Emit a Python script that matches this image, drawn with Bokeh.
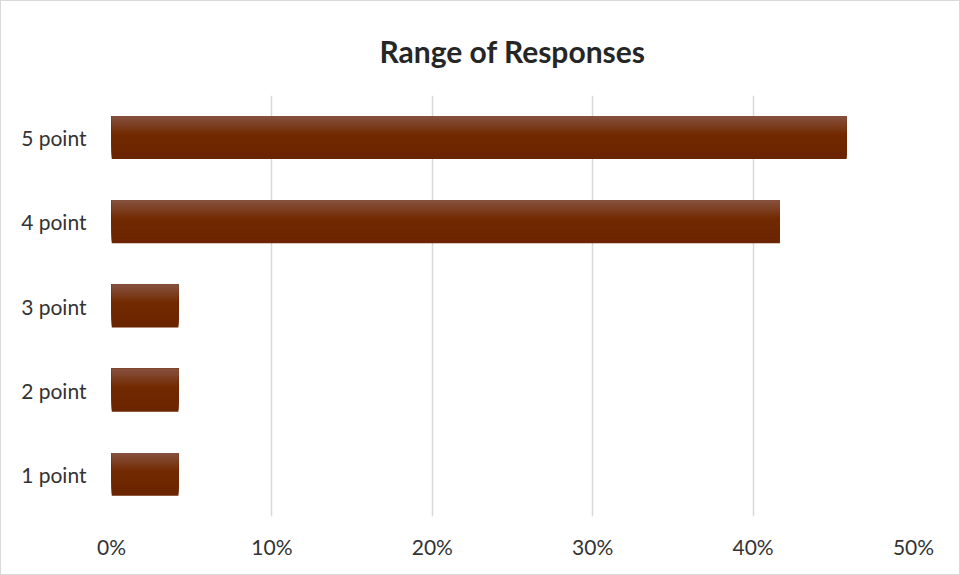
from bokeh.plotting import figure
from bokeh.models import ColumnDataSource, NumeralTickFormatter, FixedTicker, Range1d
from bokeh.transform import dodge
from bokeh.embed import file_html
from bokeh.resources import INLINE

categories = ["1 point", "2 point", "3 point", "4 point", "5 point"]
shares = [0.0417, 0.0417, 0.0417, 0.4167, 0.4583]
x_ticks = [0.0, 0.1, 0.2, 0.3, 0.4, 0.5]
title_text = "Range of Responses"

FONT = "Lato"
p = figure(width=960, height=575, y_range=categories, x_range=Range1d(0, 0.5),
           output_backend="svg", toolbar_location=None,
           min_border_left=110, min_border_right=48, min_border_top=94, min_border_bottom=60)
p.title.text = title_text
p.title.align = "center"
p.title.text_font = FONT
p.title.text_font_size = "30px"
p.title.text_font_style = "bold"
p.title.text_color = "#262626"
p.title.standoff = 54
p.title.offset = -30

src = ColumnDataSource(dict(cat=categories, val=shares))

# vertical gradient: nested rectangles anchored at the bar's top edge
h = 0.51
N = 30
top = (0x87, 0x54, 0x44)
mid = (0x73, 0x2a, 0x00)
bot = (0x6b, 0x25, 0x00)
for i in range(N, 0, -1):
    t = i / N
    if t < 0.45:
        f = t / 0.45
        c = tuple(int(top[k] + (mid[k] - top[k]) * f) for k in range(3))
    else:
        f = (t - 0.45) / 0.55
        c = tuple(int(mid[k] + (bot[k] - mid[k]) * f) for k in range(3))
    col = "#%02x%02x%02x" % c
    d = h * t
    off = h / 2 - d / 2
    p.hbar(y=dodge("cat", off, range=p.y_range), right="val", left=0, height=d,
           source=src, fill_color=col, line_color=None)

p.xaxis.ticker = FixedTicker(ticks=x_ticks)
p.xaxis.formatter = NumeralTickFormatter(format="0%")
for ax in (p.xaxis[0], p.yaxis[0]):
    ax.axis_line_color = None
    ax.major_tick_line_color = None
    ax.minor_tick_line_color = None
    ax.major_label_text_font = FONT
    ax.major_label_text_font_size = "21px"
    ax.major_label_text_color = "#333333"
p.yaxis.major_label_standoff = 19
p.xaxis.major_label_standoff = 11
p.ygrid.grid_line_color = None
p.xgrid.grid_line_color = "#d9d9d9"
p.xgrid.grid_line_width = 1.5
p.outline_line_color = None
p.styles = {"border": "1px solid #d9d9d9", "box-sizing": "border-box"}

open("out.html", "w").write(file_html(p, INLINE))
